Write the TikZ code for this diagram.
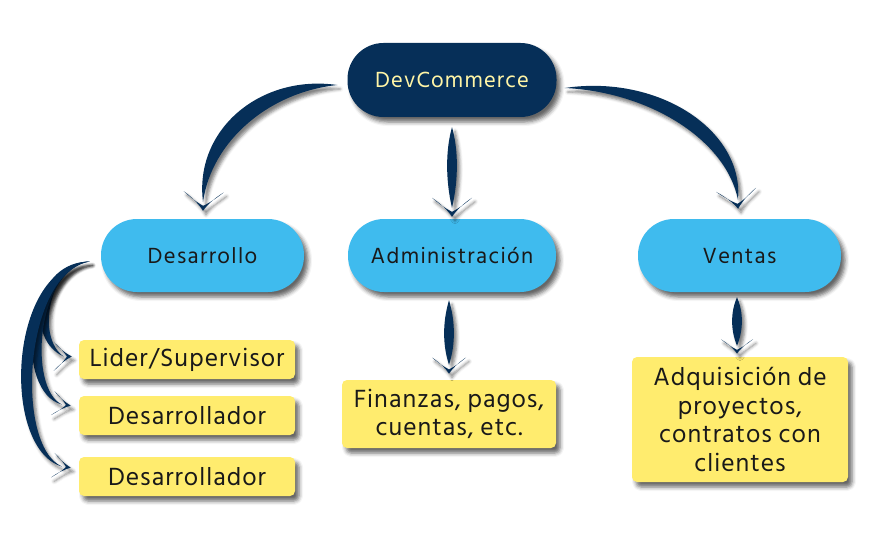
\documentclass[tikz,border=0pt]{standalone}
\usepackage{fontspec}
\setmainfont{Hind Siliguri}[LetterSpace=4]
\newfontfamily\darkfont{Hind Siliguri}[LetterSpace=5]
\newfontfamily\bluefont{Hind Siliguri}[LetterSpace=6]
\usetikzlibrary{calc,shadows.blur}
\definecolor{navy}{HTML}{062F58}
\definecolor{sky}{HTML}{3FBBEE}
\definecolor{sun}{HTML}{FFEC6E}
\definecolor{cream}{HTML}{FFF5A6}
\begin{document}
\begin{tikzpicture}[x=1pt,y=-1pt,
  shd/.style={blur shadow={shadow xshift=4pt, shadow yshift=-5pt, shadow blur radius=4pt, shadow opacity=60}},
  pill/.style={rectangle, rounded corners=36pt, minimum height=73pt, inner sep=0pt, shd},
  darkpill/.style={pill, fill=navy, text=cream, minimum width=209pt, minimum height=74pt, font=\darkfont\fontsize{22.5}{26}\selectfont},
  bluepill/.style={pill, fill=sky, text=black!90, font=\bluefont\fontsize{22.5}{26}\selectfont},
  ybox/.style={rectangle, rounded corners=5pt, fill=sun, inner sep=0pt, align=center, text=black!90, font=\fontsize{25.5}{28.7}\selectfont, shd},
  arrowc/.style={fill=navy, draw=none},
  arr/.style={arrowc, blur shadow={shadow xshift=3pt, shadow yshift=-4pt, shadow blur radius=3pt, shadow opacity=50}},
  ahead/.pic={\fill[arr] (1,0) .. controls (-5,-4) and (-12,-11) .. (-18,-20) .. controls (-12,-13) and (-7,-6) .. (-4,0) .. controls (-7,6) and (-12,13) .. (-18,20) .. controls (-12,11) and (-5,4) .. (1,0) -- cycle;}
]
\useasboundingbox (0,0) rectangle (880,540);

% nodes
\node[darkpill] (dev) at (452,80) {DevCommerce};
\node[bluepill, minimum width=203pt] (des) at (202.5,255.5) {Desarrollo};
\node[bluepill, minimum width=208pt] (adm) at (452,255.5) {Administración};
\node[bluepill, minimum width=203pt] (ven) at (739.5,255.5) {Ventas};
\node[ybox, minimum width=216pt, minimum height=39pt] (lid) at (187,359.5) {Lider/Supervisor};
\node[ybox, minimum width=216pt, minimum height=39pt] (d1) at (187,415.5) {Desarrollador};
\node[ybox, minimum width=216pt, minimum height=39pt] (d2) at (187,476.5) {Desarrollador};
\node[ybox, minimum width=214pt, minimum height=68pt] (fin) at (449,414) {Finanzas, pagos,\\cuentas, etc.};
\node[ybox, minimum width=216pt, minimum height=125pt] (adq) at (740,419.5) {Adquisición de\\proyectos,\\contratos con\\clientes};

% anchor coordinates for connectors
\coordinate (a1s) at ($(dev.west)+(-10,5)$);
\coordinate (a1e) at ($(des.north)+(0.5,-17)$);
\coordinate (a1t) at ($(des.north)+(0.5,-9)$);
\coordinate (a2s) at ($(dev.south)+(0,10)$);
\coordinate (a2e) at ($(adm.north)+(0,-11)$);
\coordinate (a2t) at ($(adm.north)+(0,-3)$);
\coordinate (a3s) at ($(dev.east)+(8,8)$);
\coordinate (a3e) at ($(ven.north)+(-1.5,-19)$);
\coordinate (a3t) at ($(ven.north)+(-1.5,-11)$);
\coordinate (a4s) at ($(adm.south)+(-3,8)$);
\coordinate (a4e) at ($(fin.north)+(0,-15)$);
\coordinate (a4t) at ($(fin.north)+(0,-7)$);
\coordinate (a5s) at ($(ven.south)+(-2.5,5)$);
\coordinate (a5e) at ($(adq.north)+(-3,-11)$);
\coordinate (a5t) at ($(adq.north)+(-3,-4)$);
\coordinate (bs) at ($(des.west)+(-11,6)$);
\coordinate (b1e) at ($(lid.west)+(-15,-3)$);
\coordinate (b1t) at ($(lid.west)+(-8,-3)$);
\coordinate (b2e) at ($(d1.west)+(-17,-11)$);
\coordinate (b2t) at ($(d1.west)+(-9,-10)$);
\coordinate (b3e) at ($(d2.west)+(-17,-10)$);
\coordinate (b3t) at ($(d2.west)+(-9,-9)$);

% connectors: tapered swooshes
\fill[arr] (a1s) .. controls (270,92) and (212,140) .. (a1e) .. controls (194,130) and (260,74) .. (a1s) -- cycle;
\pic[rotate=-92] at (a1t) {ahead};

\fill[arr] (a2s) .. controls (458.5,150) and (458.5,180) .. (a2e) .. controls (445.5,180) and (445.5,150) .. (a2s) -- cycle;
\pic[rotate=-90] at (a2t) {ahead};

\fill[arr] (a3s) .. controls (650,92) and (726,140) .. (a3e) .. controls (744,130) and (658,74) .. (a3s) -- cycle;
\pic[rotate=-84] at (a3t) {ahead};

\fill[arr] (a4s) .. controls (455.5,322) and (455.5,345) .. (a4e) .. controls (442.5,345) and (442.5,322) .. (a4s) -- cycle;
\pic[rotate=-90, xscale=0.85, yscale=0.85] at (a4t) {ahead};

\fill[arr] (a5s) .. controls (743.5,312) and (743.5,330) .. (a5e) .. controls (730.5,330) and (730.5,312) .. (a5s) -- cycle;
\pic[rotate=-90, xscale=0.75, yscale=0.8] at (a5t) {ahead};

\fill[arr] (bs) .. controls (48,266) and (36,338) .. (b1e) .. controls (25,340) and (34,262) .. (bs) -- cycle;
\pic[rotate=0, xscale=0.95, yscale=0.72] at (b1t) {ahead};
\fill[arr] (bs) .. controls (36,270) and (28,388) .. (b2e) .. controls (15,392) and (22,264) .. (bs) -- cycle;
\pic[rotate=-8, xscale=0.95, yscale=0.6] at (b2t) {ahead};
\fill[arr] (bs) .. controls (24,272) and (14,445) .. (b3e) .. controls (0,448) and (8,264) .. (bs) -- cycle;
\pic[rotate=-8, xscale=0.95, yscale=0.62] at (b3t) {ahead};
\end{tikzpicture}
\end{document}
